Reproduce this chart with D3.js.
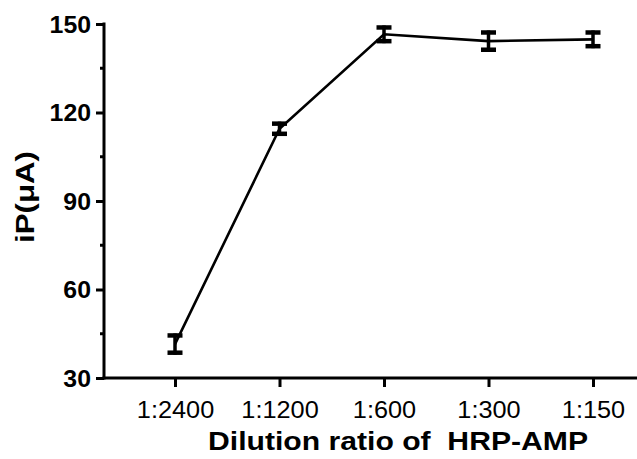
<!DOCTYPE html>
<html lang="en">
<head>
<meta charset="UTF-8">
<title>iP vs dilution ratio</title>
<script src="https://d3js.org/d3.v7.min.js"></script>
<style>
    body { margin: 0; background: #fff; }
    .tick text { font-family: "Liberation Sans", Arial, sans-serif; font-size: 23px; font-weight: bold; fill: #000; }
    .x-axis .tick text { font-weight: normal; }
    .axis-title { font-family: "Liberation Sans", Arial, sans-serif; font-weight: bold; fill: #000; }
</style>
</head>
<body>
<div id="chart"></div>
<script>
// data
const ratios = ['1:2400', '1:1200', '1:600', '1:300', '1:150'];
const current = [41.5, 114.5, 146.5, 144.2, 144.8];
const errors = [3.6, 2.4, 3.0, 3.6, 3.0];
const yTicks = [30, 60, 90, 120, 150];
const yMinor = [45, 75, 105, 135];

const width = 637, height = 459;
const svg = d3.select('#chart').append('svg')
    .attr('width', width)
    .attr('height', height);

const x = d3.scalePoint().domain(ratios).range([175, 593]);
const y = d3.scaleLinear().domain([30, 150]).range([378, 24]);
const x0 = 104;

// the original font is a bit wider than Arial
function widen(sel, k) {
    sel.each(function() {
        const w = this.getComputedTextLength();
        d3.select(this).attr('textLength', w * k).attr('lengthAdjust', 'spacingAndGlyphs');
    });
}

// y axis
const yAxis = svg.append('g')
    .attr('transform', `translate(${x0},0)`)
    .call(d3.axisLeft(y).tickValues(yTicks).tickSize(8).tickPadding(5));
yAxis.select('.domain').remove();
yAxis.selectAll('.tick line').attr('stroke-width', 3);
yAxis.selectAll('.tick text').attr('dy', '0.36em');
widen(yAxis.selectAll('.tick text'), 1.08);
svg.append('g').selectAll('line')
    .data(yMinor).enter().append('line')
    .attr('x1', x0 - 4).attr('x2', x0)
    .attr('y1', d => y(d)).attr('y2', d => y(d))
    .attr('stroke', '#000').attr('stroke-width', 3);

// x axis
const xAxis = svg.append('g')
    .attr('class', 'x-axis')
    .attr('transform', `translate(0,${y(30)})`)
    .call(d3.axisBottom(x).tickSize(9).tickPadding(15));
xAxis.select('.domain').remove();
xAxis.selectAll('.tick line').attr('stroke-width', 3);
widen(xAxis.selectAll('.tick text'), 1.1);

svg.append('line')
    .attr('x1', x0).attr('x2', x0)
    .attr('y1', y(150) - 1.5).attr('y2', y(30) + 1.5)
    .attr('stroke', '#000').attr('stroke-width', 3);
svg.append('line')
    .attr('x1', x0 - 1.5).attr('x2', width)
    .attr('y1', y(30)).attr('y2', y(30))
    .attr('stroke', '#000').attr('stroke-width', 3);

// line
svg.append('path')
    .datum(current)
    .attr('fill', 'none')
    .attr('stroke', '#000')
    .attr('stroke-width', 2.6)
    .attr('d', d3.line().x((d, i) => x(ratios[i])).y(d => y(d)));

// error bars
const eb = svg.append('g').selectAll('g')
    .data(current).enter().append('g')
    .attr('transform', (d, i) => `translate(${x(ratios[i])},0)`);
eb.append('line')
    .attr('y1', (d, i) => y(d + errors[i])).attr('y2', (d, i) => y(d - errors[i]))
    .attr('stroke', '#000').attr('stroke-width', 3.5);
eb.append('line')
    .attr('x1', -7.5).attr('x2', 7.5)
    .attr('y1', (d, i) => y(d + errors[i]) + 2).attr('y2', (d, i) => y(d + errors[i]) + 2)
    .attr('stroke', '#000').attr('stroke-width', 4.5);
eb.append('line')
    .attr('x1', -7.5).attr('x2', 7.5)
    .attr('y1', (d, i) => y(d - errors[i]) - 2).attr('y2', (d, i) => y(d - errors[i]) - 2)
    .attr('stroke', '#000').attr('stroke-width', 4.5);

// titles
svg.append('text')
    .attr('class', 'axis-title')
    .attr('x', 398).attr('y', 450)
    .attr('text-anchor', 'middle')
    .attr('textLength', 380).attr('lengthAdjust', 'spacingAndGlyphs')
    .style('font-size', '25px')
    .style('white-space', 'pre')
    .text('Dilution ratio of  HRP-AMP');
svg.append('text')
    .attr('class', 'axis-title')
    .attr('transform', 'translate(34,197) rotate(-90)')
    .attr('text-anchor', 'middle')
    .attr('textLength', 92).attr('lengthAdjust', 'spacingAndGlyphs')
    .style('font-size', '25px')
    .text('iP(μA)');
</script>
</body>
</html>
